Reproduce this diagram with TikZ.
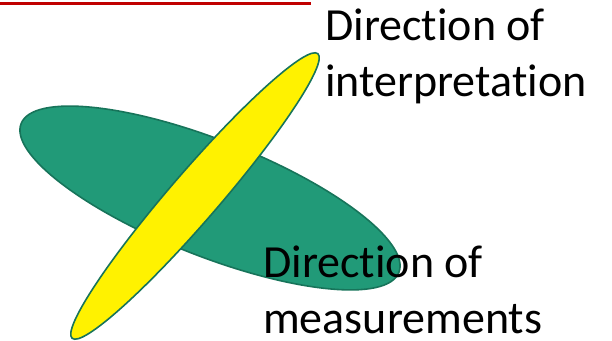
\documentclass[tikz,border=0pt]{standalone}
\usepackage{fontspec}
\setmainfont[Ligatures=CommonOff]{Carlito}
\definecolor{fillgreen}{HTML}{219A78}
\definecolor{edgegreen}{HTML}{17745A}
\definecolor{linered}{HTML}{C00000}
\begin{document}
\begin{tikzpicture}[x=1pt,y=1pt,
  blob/.style={draw=edgegreen,line width=1.6pt},
  label/.style={anchor=base west,inner sep=0pt,align=left,font=\fontsize{46}{56}\selectfont}]
\useasboundingbox (0,0) rectangle (612,340);
\draw[linered,line width=3pt] (0,336.5) coordinate (r0) -- (311,336.5) coordinate (r1);
\draw[blob,fill=fillgreen,rotate around={-21.5:(210,142)}] (210,142) ellipse [x radius=203, y radius=58];
\draw[blob,fill=yellow,rotate around={49.2:(195,144)}] (195,144) ellipse [x radius=188, y radius=24.5];
\node[label] (interp) at (325,243.3) {Direction of\\interpretation};
\node[label] (meas) at (263,7) {Direction of\\measurements};
\end{tikzpicture}
\end{document}
